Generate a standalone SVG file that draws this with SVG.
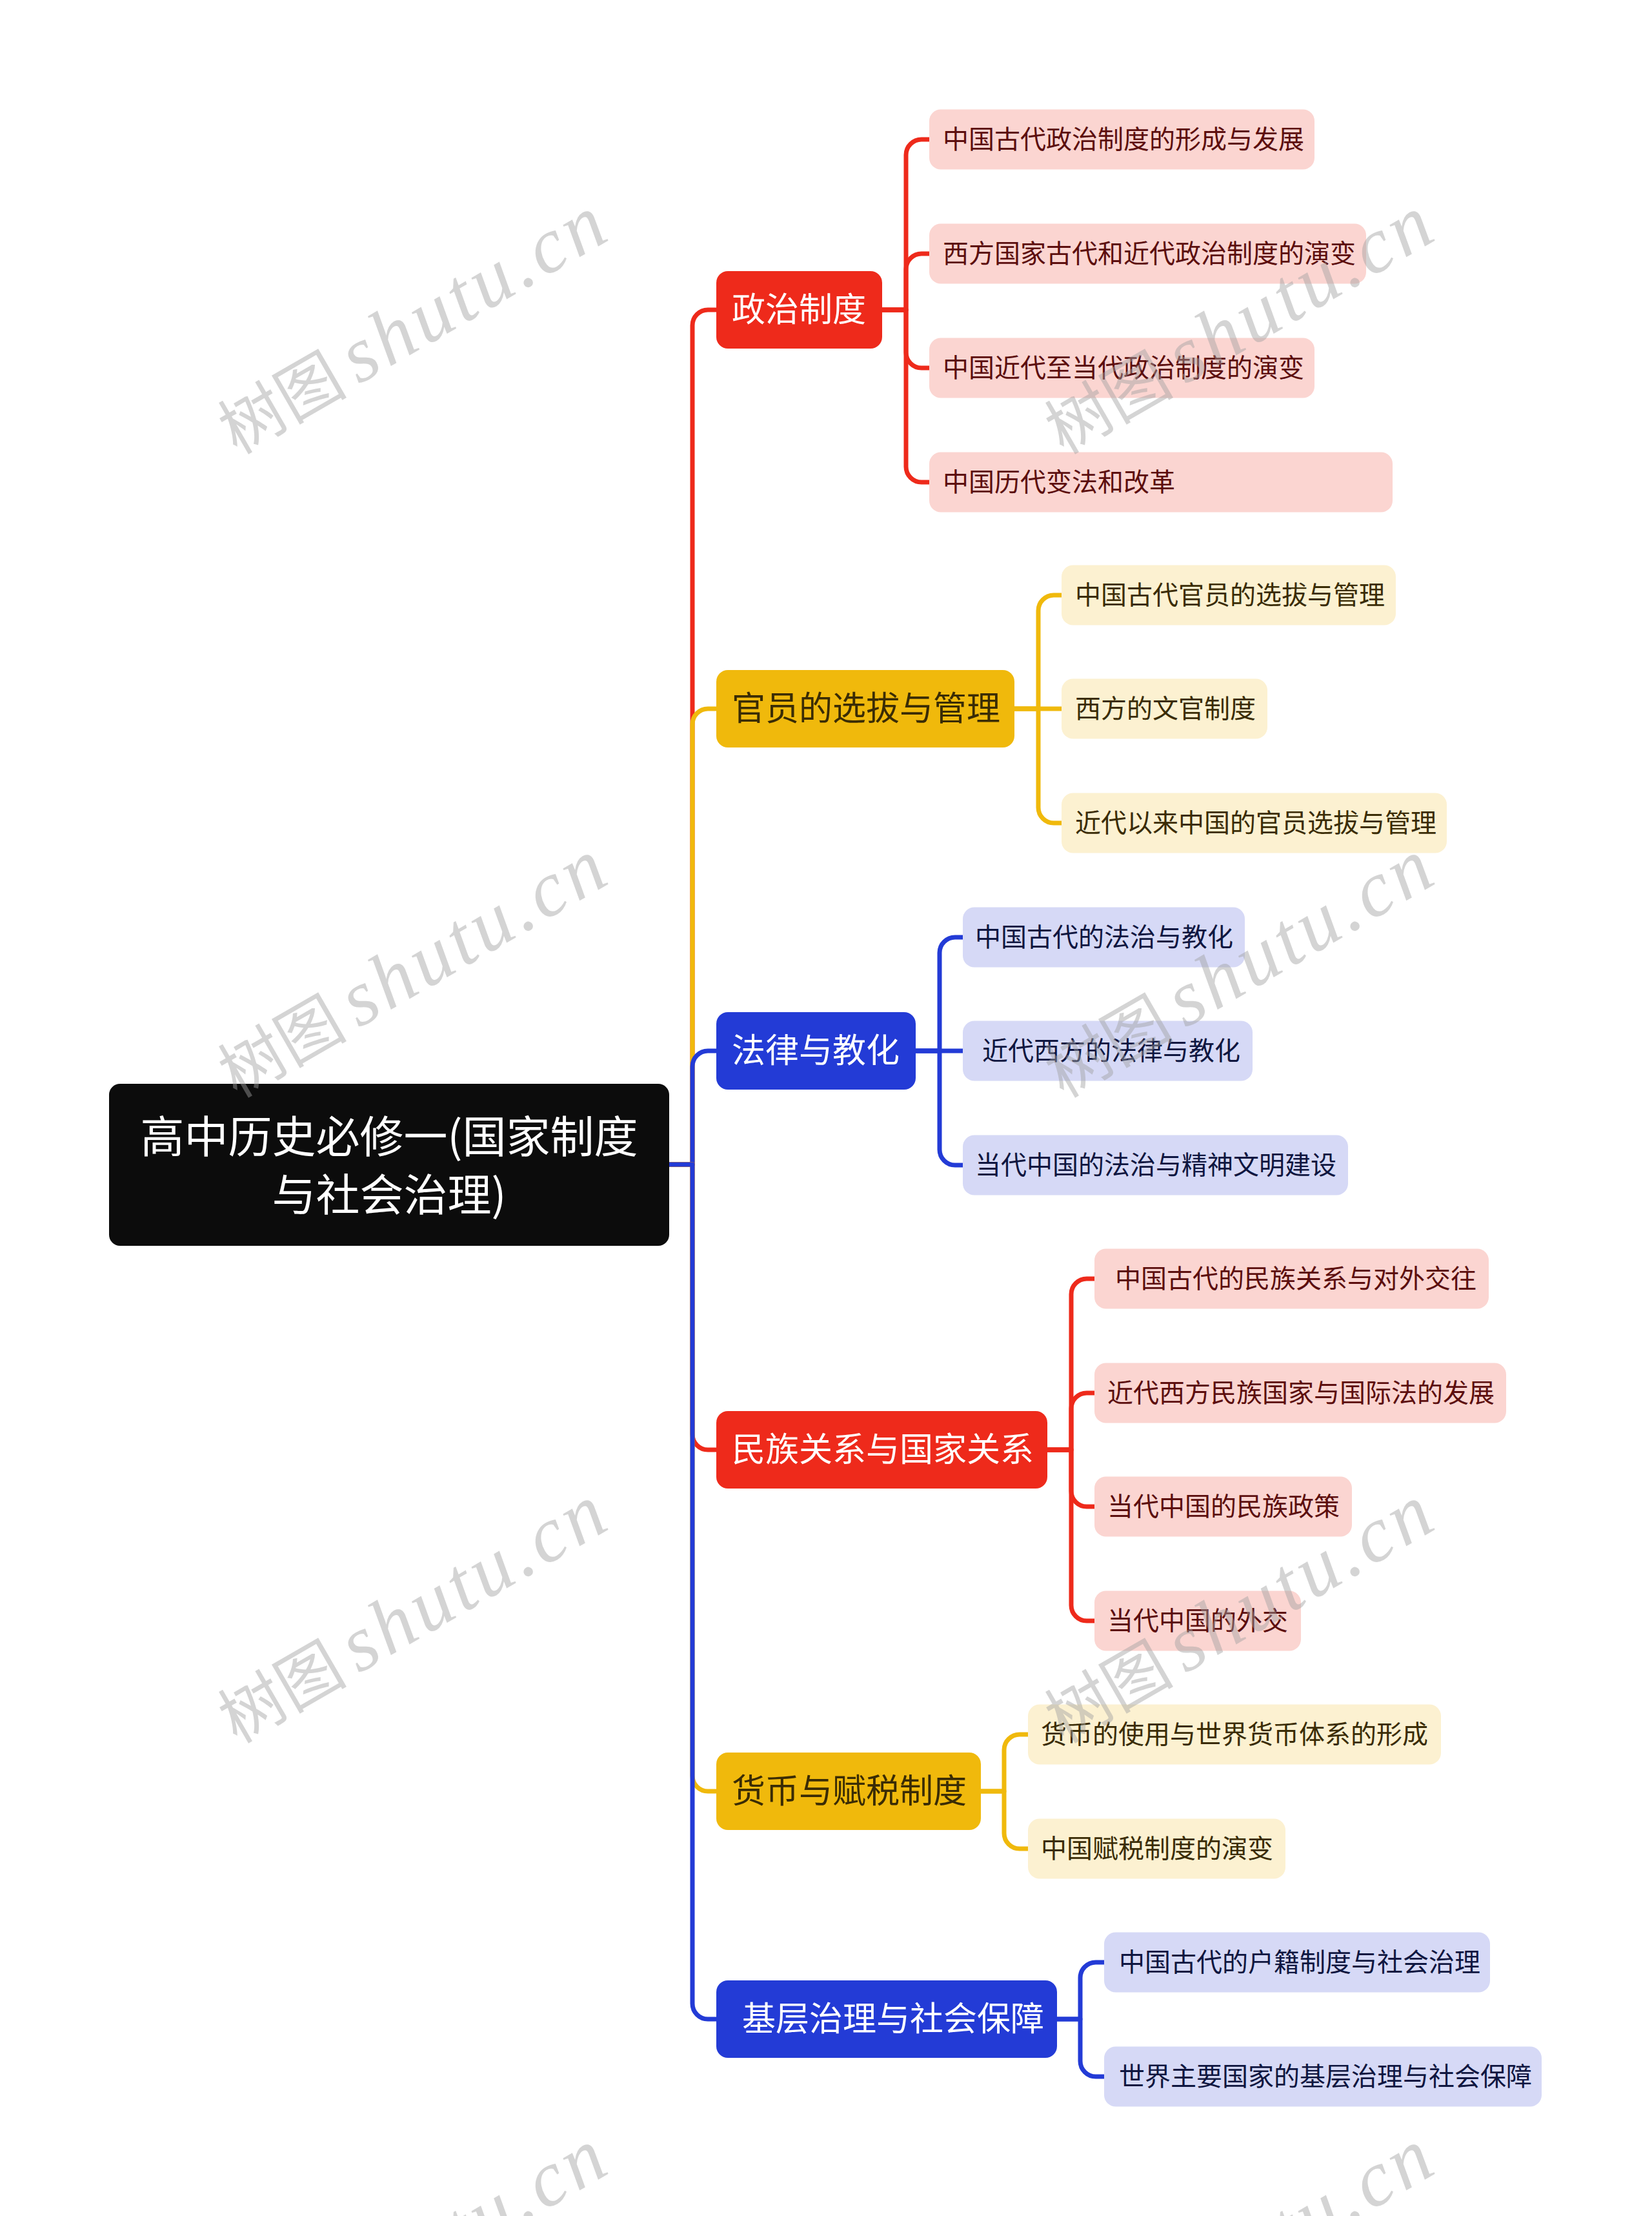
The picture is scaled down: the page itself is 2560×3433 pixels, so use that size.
<svg xmlns="http://www.w3.org/2000/svg" width="2560" height="3433" viewBox="0 0 2560 3433">
<style>
  text { font-family: "Noto Sans CJK SC", "Noto Sans", sans-serif; }
  .root-t { font-size: 68px; fill: #ffffff; text-anchor: middle; }
  .l1 { font-size: 52px; }
  .l2 { font-size: 40px; }
  .w { fill: #ffffff; }
  .ty { fill: #3a2c05; }
  .tr { fill: #5c0e0e; }
  .tb { fill: #0f1640; }
  .red { fill: #ee2a1b; }
  .yel { fill: #f0b90c; }
  .blu { fill: #233bd6; }
  .pink { fill: #fbd5d1; }
  .cream { fill: #fcf1d1; }
  .lav { fill: #d6d9f6; }
  .c { fill: none; stroke-width: 7; stroke-linecap: butt; stroke-linejoin: round; }
  .cr { stroke: #ee2a1b; }
  .cy { stroke: #f0b90c; }
  .cb { stroke: #233bd6; }
  .wm { fill: #a0a0a0; fill-opacity: 0.45; }
  .wm-cjk { font-family: "Noto Sans CJK SC", serif; font-size: 100px; }
  .wm-lat { font-family: "Liberation Serif", serif; font-style: italic; font-size: 122px; letter-spacing: 6px; }
</style>

<g id="connectors">
  <!-- root to level 1 -->
  <path class="c cr" d="M1037,1804 H1073 V504 A24,24 0 0 1 1097,480 H1110"/>
  <path class="c cy" d="M1037,1804 H1073 V1122 A24,24 0 0 1 1097,1098 H1110"/>
  <path class="c cb" d="M1037,1804 H1073 V1652 A24,24 0 0 1 1097,1628 H1110"/>
  <path class="c cr" d="M1037,1804 H1073 V2222 A24,24 0 0 0 1097,2246 H1110"/>
  <path class="c cy" d="M1037,1804 H1073 V2751 A24,24 0 0 0 1097,2775 H1110"/>
  <path class="c cb" d="M1037,1804 H1073 V3104 A24,24 0 0 0 1097,3128 H1110"/>

  <!-- 政治制度 children -->
  <path class="c cr" d="M1367,480 H1404 V240 A24,24 0 0 1 1428,216 H1440"/>
  <path class="c cr" d="M1367,480 H1404 V417 A24,24 0 0 1 1428,393 H1440"/>
  <path class="c cr" d="M1367,480 H1404 V546 A24,24 0 0 0 1428,570 H1440"/>
  <path class="c cr" d="M1367,480 H1404 V723 A24,24 0 0 0 1428,747 H1440"/>

  <!-- 官员的选拔与管理 children -->
  <path class="c cy" d="M1572,1098 H1609 V946 A24,24 0 0 1 1633,922 H1645"/>
  <path class="c cy" d="M1572,1098 H1645"/>
  <path class="c cy" d="M1572,1098 H1609 V1251 A24,24 0 0 0 1633,1275 H1645"/>

  <!-- 法律与教化 children -->
  <path class="c cb" d="M1419,1628 H1456 V1476 A24,24 0 0 1 1480,1452 H1492"/>
  <path class="c cb" d="M1419,1628 H1492"/>
  <path class="c cb" d="M1419,1628 H1456 V1781 A24,24 0 0 0 1480,1805 H1492"/>

  <!-- 民族关系与国家关系 children -->
  <path class="c cr" d="M1623,2246 H1660 V2005 A24,24 0 0 1 1684,1981 H1696"/>
  <path class="c cr" d="M1623,2246 H1660 V2182 A24,24 0 0 1 1684,2158 H1696"/>
  <path class="c cr" d="M1623,2246 H1660 V2310 A24,24 0 0 0 1684,2334 H1696"/>
  <path class="c cr" d="M1623,2246 H1660 V2487 A24,24 0 0 0 1684,2511 H1696"/>

  <!-- 货币与赋税制度 children -->
  <path class="c cy" d="M1520,2775 H1556 V2711 A24,24 0 0 1 1580,2687 H1593"/>
  <path class="c cy" d="M1520,2775 H1556 V2840 A24,24 0 0 0 1580,2864 H1593"/>

  <!-- 基层治理与社会保障 children -->
  <path class="c cb" d="M1638,3128 H1674 V3064 A24,24 0 0 1 1698,3040 H1711"/>
  <path class="c cb" d="M1638,3128 H1674 V3193 A24,24 0 0 0 1698,3217 H1711"/>
</g>

<g id="root">
  <rect x="169" y="1679" width="868" height="251" rx="17" fill="#0c0c0c"/>
  <text class="root-t" x="603" y="1786">高中历史必修一(国家制度</text>
  <text class="root-t" x="603" y="1876">与社会治理)</text>
</g>

<g id="n-zhengzhi">
  <rect class="red" x="1110" y="420" width="257" height="120" rx="18"/>
  <text class="l1 w" x="1134" y="498">政治制度</text>
</g>
<g id="n-guanyuan">
  <rect class="yel" x="1110" y="1038" width="462" height="120" rx="18"/>
  <text class="l1 ty" x="1134" y="1116">官员的选拔与管理</text>
</g>
<g id="n-falv">
  <rect class="blu" x="1110" y="1568" width="309" height="120" rx="18"/>
  <text class="l1 w" x="1134" y="1646">法律与教化</text>
</g>
<g id="n-minzu">
  <rect class="red" x="1110" y="2186" width="513" height="120" rx="18"/>
  <text class="l1 w" x="1134" y="2264">民族关系与国家关系</text>
</g>
<g id="n-huobi">
  <rect class="yel" x="1110" y="2715" width="410" height="120" rx="18"/>
  <text class="l1 ty" x="1134" y="2793">货币与赋税制度</text>
</g>
<g id="n-jiceng">
  <rect class="blu" x="1110" y="3068" width="528" height="120" rx="18"/>
  <text class="l1 w" x="1150" y="3146">基层治理与社会保障</text>
</g>

<!-- level 2: 政治制度 -->
<g id="n-1a">
  <rect class="pink" x="1440" y="169.5" width="597" height="93" rx="18"/>
  <text class="l2 tr" x="1461" y="230">中国古代政治制度的形成与发展</text>
</g>
<g id="n-1b">
  <rect class="pink" x="1440" y="346.5" width="677" height="93" rx="18"/>
  <text class="l2 tr" x="1461" y="407">西方国家古代和近代政治制度的演变</text>
</g>
<g id="n-1c">
  <rect class="pink" x="1440" y="523.5" width="597" height="93" rx="18"/>
  <text class="l2 tr" x="1461" y="584">中国近代至当代政治制度的演变</text>
</g>
<g id="n-1d">
  <rect class="pink" x="1440" y="700.5" width="718" height="93" rx="18"/>
  <text class="l2 tr" x="1461" y="761">中国历代变法和改革</text>
</g>

<!-- level 2: 官员 -->
<g id="n-2a">
  <rect class="cream" x="1645" y="875.5" width="518" height="93" rx="18"/>
  <text class="l2 ty" x="1666" y="936">中国古代官员的选拔与管理</text>
</g>
<g id="n-2b">
  <rect class="cream" x="1645" y="1051.5" width="319" height="93" rx="18"/>
  <text class="l2 ty" x="1666" y="1112">西方的文官制度</text>
</g>
<g id="n-2c">
  <rect class="cream" x="1645" y="1228.5" width="597" height="93" rx="18"/>
  <text class="l2 ty" x="1666" y="1289">近代以来中国的官员选拔与管理</text>
</g>

<!-- level 2: 法律 -->
<g id="n-3a">
  <rect class="lav" x="1492" y="1405.5" width="437" height="93" rx="18"/>
  <text class="l2 tb" x="1511" y="1466">中国古代的法治与教化</text>
</g>
<g id="n-3b">
  <rect class="lav" x="1492" y="1581.5" width="449" height="93" rx="18"/>
  <text class="l2 tb" x="1522" y="1642">近代西方的法律与教化</text>
</g>
<g id="n-3c">
  <rect class="lav" x="1492" y="1758.5" width="597" height="93" rx="18"/>
  <text class="l2 tb" x="1511" y="1819">当代中国的法治与精神文明建设</text>
</g>

<!-- level 2: 民族 -->
<g id="n-4a">
  <rect class="pink" x="1696" y="1934.5" width="611" height="93" rx="18"/>
  <text class="l2 tr" x="1728" y="1995">中国古代的民族关系与对外交往</text>
</g>
<g id="n-4b">
  <rect class="pink" x="1696" y="2111.5" width="638" height="93" rx="18"/>
  <text class="l2 tr" x="1716" y="2172">近代西方民族国家与国际法的发展</text>
</g>
<g id="n-4c">
  <rect class="pink" x="1696" y="2287.5" width="399" height="93" rx="18"/>
  <text class="l2 tr" x="1716" y="2348">当代中国的民族政策</text>
</g>
<g id="n-4d">
  <rect class="pink" x="1696" y="2464.5" width="320" height="93" rx="18"/>
  <text class="l2 tr" x="1716" y="2525">当代中国的外交</text>
</g>

<!-- level 2: 货币 -->
<g id="n-5a">
  <rect class="cream" x="1593" y="2640.5" width="640" height="93" rx="18"/>
  <text class="l2 ty" x="1613" y="2701">货币的使用与世界货币体系的形成</text>
</g>
<g id="n-5b">
  <rect class="cream" x="1593" y="2817.5" width="399" height="93" rx="18"/>
  <text class="l2 ty" x="1613" y="2878">中国赋税制度的演变</text>
</g>

<!-- level 2: 基层 -->
<g id="n-6a">
  <rect class="lav" x="1711" y="2993.5" width="598" height="93" rx="18"/>
  <text class="l2 tb" x="1734" y="3054">中国古代的户籍制度与社会治理</text>
</g>
<g id="n-6b">
  <rect class="lav" x="1711" y="3170.5" width="678" height="93" rx="18"/>
  <text class="l2 tb" x="1734" y="3231">世界主要国家的基层治理与社会保障</text>
</g>

<g id="watermark" class="wm">
  <text transform="translate(367,705) rotate(-30)"><tspan class="wm-cjk">树图</tspan><tspan class="wm-lat" dx="18">shutu.cn</tspan></text>
  <text transform="translate(1648,705) rotate(-30)"><tspan class="wm-cjk">树图</tspan><tspan class="wm-lat" dx="18">shutu.cn</tspan></text>
  <text transform="translate(367,1702) rotate(-30)"><tspan class="wm-cjk">树图</tspan><tspan class="wm-lat" dx="18">shutu.cn</tspan></text>
  <text transform="translate(1648,1702) rotate(-30)"><tspan class="wm-cjk">树图</tspan><tspan class="wm-lat" dx="18">shutu.cn</tspan></text>
  <text transform="translate(367,2702) rotate(-30)"><tspan class="wm-cjk">树图</tspan><tspan class="wm-lat" dx="18">shutu.cn</tspan></text>
  <text transform="translate(1648,2702) rotate(-30)"><tspan class="wm-cjk">树图</tspan><tspan class="wm-lat" dx="18">shutu.cn</tspan></text>
  <text transform="translate(367,3700) rotate(-30)"><tspan class="wm-cjk">树图</tspan><tspan class="wm-lat" dx="18">shutu.cn</tspan></text>
  <text transform="translate(1648,3700) rotate(-30)"><tspan class="wm-cjk">树图</tspan><tspan class="wm-lat" dx="18">shutu.cn</tspan></text>
</g>
</svg>
